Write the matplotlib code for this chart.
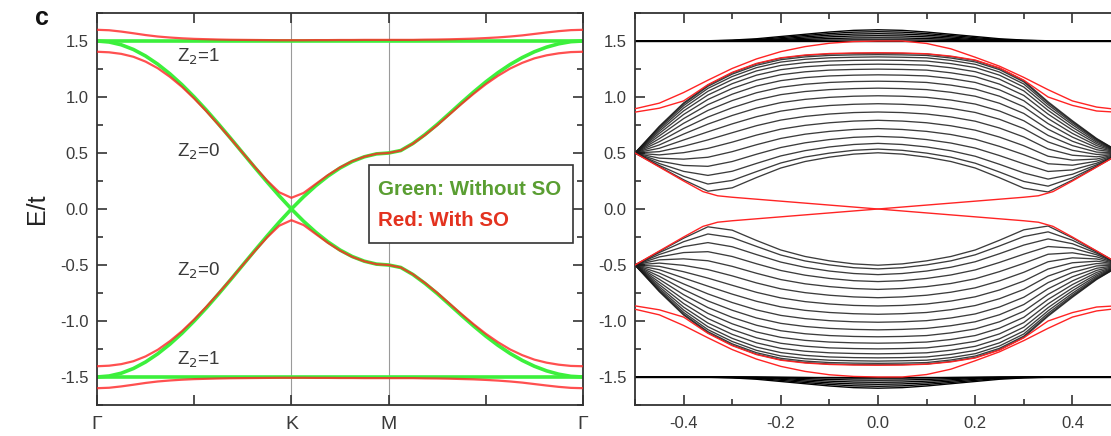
import matplotlib
matplotlib.use("Agg")
import matplotlib.pyplot as plt
from matplotlib.patches import Rectangle
from matplotlib.ticker import MultipleLocator, FixedLocator, FormatStrFormatter

plt.rcParams['font.family'] = ['Liberation Sans', 'DejaVu Sans']
plt.rcParams['axes.unicode_minus'] = False

# ---------------- left panel: bulk bands along Γ-K-M-Γ ----------------
path_x = [0.0, 0.125, 0.25, 0.375, 0.5, 0.625, 0.75, 0.875, 1.0, 1.125, 1.25, 1.375,
          1.5, 1.625, 1.75, 1.875, 2.0, 2.125, 2.25, 2.375, 2.5, 2.625, 2.75, 2.875,
          3.0, 3.125, 3.25, 3.375, 3.5, 3.625, 3.75, 3.875, 4.0, 4.125, 4.25, 4.375,
          4.5, 4.625, 4.75, 4.875, 5.0]
path_tick_pos = [0, 1, 2, 3, 4, 5]
path_tick_labels = ['Γ', '', 'K', 'M', '', 'Γ']
symm_lines = [2, 3]

flat_x = [0.0, 5.0]
flat_green = [1.5, 1.5]

green_disp = [1.500, 1.491, 1.466, 1.424, 1.366, 1.293, 1.207, 1.109, 1.000, 0.883,
              0.759, 0.631, 0.500, 0.369, 0.241, 0.117, 0.000, 0.109, 0.207, 0.293,
              0.366, 0.424, 0.466, 0.492, 0.500, 0.522, 0.585, 0.665, 0.755, 0.852,
              0.950, 1.045, 1.135, 1.217, 1.290, 1.352, 1.404, 1.445, 1.475, 1.494, 1.500]

red_disp = [1.404, 1.399, 1.385, 1.359, 1.316, 1.257, 1.180, 1.090, 0.986, 0.873,
            0.752, 0.628, 0.500, 0.374, 0.254, 0.149, 0.100, 0.143, 0.223, 0.302,
            0.371, 0.427, 0.467, 0.493, 0.500, 0.522, 0.583, 0.661, 0.748, 0.843,
            0.938, 1.029, 1.114, 1.189, 1.254, 1.305, 1.345, 1.372, 1.390, 1.401, 1.404]

red_flat = [1.600, 1.596, 1.584, 1.569, 1.553, 1.540, 1.531, 1.524, 1.519, 1.516,
            1.513, 1.511, 1.510, 1.509, 1.508, 1.507, 1.507, 1.507, 1.508, 1.508,
            1.509, 1.509, 1.510, 1.510, 1.510, 1.510, 1.510, 1.512, 1.513, 1.515,
            1.518, 1.521, 1.526, 1.532, 1.540, 1.550, 1.563, 1.576, 1.588, 1.597, 1.600]

z2_labels = ['Z$_2$=1', 'Z$_2$=0', 'Z$_2$=0', 'Z$_2$=1']
z2_pos = [(0.82, 1.36), (0.82, 0.51), (0.82, -0.55), (0.82, -1.35)]

legend_lines = ['Green: Without SO', 'Red: With SO']

# ---------------- right panel: ribbon spectrum ----------------
rk = [-0.50, -0.45, -0.40, -0.35, -0.30, -0.25, -0.20, -0.15, -0.10, -0.05, 0.00,
      0.05, 0.10, 0.15, 0.20, 0.25, 0.30, 0.35, 0.40, 0.45, 0.50]

bulk_lines = [
    [0.5, 0.738, 0.947, 1.106, 1.216, 1.296, 1.346, 1.371, 1.384, 1.389, 1.391, 1.389, 1.384, 1.361, 1.326, 1.256, 1.146, 0.957, 0.788, 0.629, 0.5],
    [0.5, 0.733, 0.938, 1.095, 1.204, 1.283, 1.333, 1.358, 1.371, 1.376, 1.378, 1.376, 1.371, 1.348, 1.313, 1.244, 1.135, 0.947, 0.780, 0.625, 0.5],
    [0.5, 0.723, 0.923, 1.077, 1.183, 1.262, 1.312, 1.337, 1.350, 1.355, 1.358, 1.355, 1.350, 1.327, 1.292, 1.223, 1.116, 0.931, 0.768, 0.618, 0.5],
    [0.5, 0.710, 0.902, 1.051, 1.155, 1.233, 1.282, 1.307, 1.321, 1.327, 1.329, 1.327, 1.321, 1.298, 1.263, 1.195, 1.089, 0.909, 0.752, 0.608, 0.5],
    [0.5, 0.694, 0.876, 1.018, 1.119, 1.195, 1.244, 1.270, 1.284, 1.290, 1.293, 1.290, 1.284, 1.261, 1.226, 1.159, 1.055, 0.881, 0.730, 0.596, 0.5],
    [0.5, 0.675, 0.844, 0.978, 1.076, 1.150, 1.199, 1.225, 1.240, 1.246, 1.249, 1.246, 1.240, 1.216, 1.182, 1.115, 1.014, 0.847, 0.705, 0.582, 0.5],
    [0.5, 0.653, 0.807, 0.932, 1.025, 1.098, 1.146, 1.173, 1.188, 1.195, 1.198, 1.195, 1.188, 1.165, 1.130, 1.064, 0.967, 0.807, 0.675, 0.566, 0.5],
    [0.5, 0.628, 0.765, 0.880, 0.968, 1.038, 1.087, 1.114, 1.130, 1.138, 1.141, 1.138, 1.130, 1.106, 1.071, 1.007, 0.913, 0.762, 0.642, 0.548, 0.5],
    [0.5, 0.601, 0.719, 0.821, 0.904, 0.973, 1.021, 1.049, 1.066, 1.075, 1.079, 1.075, 1.066, 1.042, 1.007, 0.944, 0.853, 0.712, 0.605, 0.529, 0.5],
    [0.5, 0.572, 0.669, 0.758, 0.835, 0.901, 0.950, 0.979, 0.997, 1.007, 1.011, 1.007, 0.997, 0.973, 0.937, 0.875, 0.788, 0.657, 0.566, 0.508, 0.5],
    [0.5, 0.542, 0.616, 0.689, 0.760, 0.824, 0.874, 0.905, 0.924, 0.935, 0.940, 0.935, 0.924, 0.899, 0.862, 0.801, 0.718, 0.599, 0.524, 0.487, 0.5],
    [0.5, 0.512, 0.560, 0.617, 0.681, 0.744, 0.794, 0.827, 0.848, 0.861, 0.866, 0.861, 0.848, 0.822, 0.784, 0.723, 0.643, 0.536, 0.480, 0.466, 0.5],
    [0.5, 0.483, 0.503, 0.541, 0.597, 0.660, 0.713, 0.747, 0.770, 0.785, 0.792, 0.785, 0.770, 0.743, 0.704, 0.642, 0.565, 0.471, 0.436, 0.446, 0.5],
    [0.5, 0.454, 0.445, 0.462, 0.512, 0.574, 0.630, 0.668, 0.693, 0.710, 0.718, 0.710, 0.693, 0.665, 0.623, 0.559, 0.485, 0.404, 0.391, 0.427, 0.5],
    [0.5, 0.428, 0.389, 0.381, 0.424, 0.489, 0.549, 0.591, 0.620, 0.640, 0.648, 0.640, 0.620, 0.589, 0.544, 0.477, 0.403, 0.335, 0.349, 0.409, 0.5],
    [0.5, 0.406, 0.336, 0.300, 0.337, 0.407, 0.474, 0.521, 0.554, 0.576, 0.586, 0.576, 0.554, 0.520, 0.471, 0.399, 0.322, 0.267, 0.310, 0.395, 0.5],
    [0.5, 0.389, 0.292, 0.223, 0.255, 0.334, 0.411, 0.464, 0.499, 0.524, 0.535, 0.524, 0.499, 0.463, 0.409, 0.330, 0.246, 0.204, 0.279, 0.384, 0.5],
    [0.5, 0.379, 0.261, 0.159, 0.189, 0.281, 0.366, 0.424, 0.463, 0.490, 0.502, 0.490, 0.463, 0.424, 0.366, 0.279, 0.186, 0.152, 0.258, 0.377, 0.5],
]

flat_lines = [
    [1.500, 1.500, 1.500, 1.502, 1.508, 1.520, 1.540, 1.560, 1.580, 1.595, 1.600, 1.595, 1.580, 1.560, 1.540, 1.520, 1.508, 1.502, 1.500, 1.500, 1.500],
    [1.500, 1.500, 1.500, 1.501, 1.505, 1.513, 1.530, 1.549, 1.566, 1.579, 1.583, 1.579, 1.566, 1.549, 1.530, 1.513, 1.505, 1.501, 1.500, 1.500, 1.500],
    [1.500, 1.500, 1.500, 1.500, 1.503, 1.508, 1.520, 1.537, 1.552, 1.562, 1.565, 1.562, 1.552, 1.537, 1.520, 1.508, 1.503, 1.500, 1.500, 1.500, 1.500],
    [1.500, 1.500, 1.500, 1.500, 1.501, 1.505, 1.512, 1.525, 1.537, 1.545, 1.547, 1.545, 1.537, 1.525, 1.512, 1.505, 1.501, 1.500, 1.500, 1.500, 1.500],
    [1.500, 1.500, 1.500, 1.500, 1.500, 1.502, 1.506, 1.514, 1.522, 1.527, 1.528, 1.527, 1.522, 1.514, 1.506, 1.502, 1.500, 1.500, 1.500, 1.500, 1.500],
    [1.500, 1.500, 1.500, 1.500, 1.500, 1.500, 1.502, 1.505, 1.508, 1.510, 1.510, 1.510, 1.508, 1.505, 1.502, 1.500, 1.500, 1.500, 1.500, 1.500, 1.500],
    [1.500, 1.500, 1.500, 1.500, 1.500, 1.500, 1.500, 1.500, 1.500, 1.500, 1.500, 1.500, 1.500, 1.500, 1.500, 1.500, 1.500, 1.500, 1.500, 1.500, 1.500],
]

# edge states (red)
edge_cross_k = [-0.5, -0.45, -0.4, -0.36, -0.33, -0.3, -0.2, -0.1, 0.0,
                0.1, 0.2, 0.3, 0.33, 0.36, 0.4, 0.45, 0.5]
edge_cross_e = [0.5, 0.375, 0.25, 0.155, 0.118, 0.105, 0.07, 0.035, 0.0,
                -0.035, -0.07, -0.105, -0.118, -0.155, -0.25, -0.375, -0.5]

edge_outer = [0.895, 0.945, 1.04, 1.15, 1.255, 1.34, 1.405, 1.45, 1.48, 1.495, 1.50,
              1.50, 1.478, 1.43, 1.355, 1.275, 1.175, 1.065, 0.965, 0.91, 0.885]
edge_inner = [0.865, 0.90, 0.965, 1.11, 1.22, 1.30, 1.35, 1.375, 1.388, 1.393, 1.395,
              1.393, 1.386, 1.365, 1.33, 1.26, 1.15, 1.00, 0.925, 0.875, 0.862]

# ---------------- styling ----------------
GREEN = '#3cf03c'
RED = '#ff2424'
TXT = '#3a3a3a'
SPINE = '#333333'


def style_axes(ax):
    for s in ax.spines.values():
        s.set_color(SPINE)
        s.set_linewidth(1.3)
    ax.tick_params(which='both', direction='in', top=True, right=True,
                   colors=SPINE, labelcolor=TXT, labelsize=12, width=1.2)
    ax.tick_params(which='major', length=7, pad=6)
    ax.tick_params(which='minor', length=4)
    ax.set_ylim(-1.75, 1.75)
    ax.yaxis.set_major_locator(MultipleLocator(0.5))
    ax.yaxis.set_minor_locator(MultipleLocator(0.25))
    ax.yaxis.set_major_formatter(FormatStrFormatter('%.1f'))


fig = plt.figure(figsize=(11.11, 4.36), dpi=100)
W, H = 1111.0, 436.0
axL = fig.add_axes([97 / W, (436 - 405) / H, 486 / W, 392 / H])
axR = fig.add_axes([635 / W, (436 - 405) / H, 486 / W, 392 / H])

# ---- left panel ----
style_axes(axL)
axL.set_xlim(0, 5)
for xv in symm_lines:
    axL.axvline(xv, color='#9a9a9a', lw=0.8, zorder=1)
for sgn in (1, -1):
    axL.plot(flat_x, [sgn * v for v in flat_green], color=GREEN, lw=2.6, zorder=2,
             solid_capstyle='butt')
    axL.plot(path_x, [sgn * v for v in green_disp], color=GREEN, lw=2.6, zorder=2)
for sgn in (1, -1):
    axL.plot(path_x, [sgn * v for v in red_flat], color=RED, lw=1.6, alpha=0.8, zorder=3)
    axL.plot(path_x, [sgn * v for v in red_disp], color=RED, lw=1.6, alpha=0.8, zorder=3)
axL.xaxis.set_major_locator(FixedLocator(path_tick_pos))
axL.set_xticklabels(path_tick_labels)
axL.tick_params(axis='x', labelsize=14, pad=8)
for lab, (xx, yy) in zip(z2_labels, z2_pos):
    axL.text(xx, yy, lab, fontsize=13.5, color=TXT, va='center', ha='left', zorder=4)

# legend box
axL.add_patch(Rectangle((2.80, -0.305), 2.10, 0.697, facecolor='white',
                        edgecolor=SPINE, lw=1.2, zorder=5))
axL.text(2.89, 0.17, legend_lines[0], color='#5a9e32', fontsize=14.8, fontweight='bold',
         va='center', ha='left', zorder=6)
axL.text(2.89, -0.10, legend_lines[1], color='#e3321f', fontsize=14.8, fontweight='bold',
         va='center', ha='left', zorder=6)

axL.set_ylabel('E/t', fontsize=18, color='#222222', labelpad=8)
fig.text(42 / W, 1 - 18 / H, 'c', fontsize=18, fontweight='bold', color='#111111',
         ha='center', va='center')

# ---- right panel ----
style_axes(axR)
axR.set_xlim(-0.5, 0.5)
axR.xaxis.set_major_locator(MultipleLocator(0.2))
axR.xaxis.set_minor_locator(MultipleLocator(0.1))
axR.xaxis.set_major_formatter(FormatStrFormatter('%.1f'))
axR.tick_params(axis='x', pad=8)

for row in bulk_lines:
    axR.plot(rk, row, color='#1a1a1a', lw=0.95, alpha=0.85, zorder=2)
    axR.plot(rk, [-e for e in row], color='#1a1a1a', lw=0.95, alpha=0.85, zorder=2)
for row in flat_lines:
    axR.plot(rk, row, color='black', lw=1.0, zorder=2)
    axR.plot(rk, [-e for e in row], color='black', lw=1.0, zorder=2)

axR.plot(edge_cross_k, edge_cross_e, color=RED, lw=1.0, zorder=3)
axR.plot(edge_cross_k, [-e for e in edge_cross_e], color=RED, lw=1.0, zorder=3)
for curve in (edge_outer, edge_inner):
    axR.plot(rk, curve, color=RED, lw=1.0, zorder=3)
    axR.plot(rk, [-e for e in curve], color=RED, lw=1.0, zorder=3)

fig.savefig('out.png', dpi=100)
